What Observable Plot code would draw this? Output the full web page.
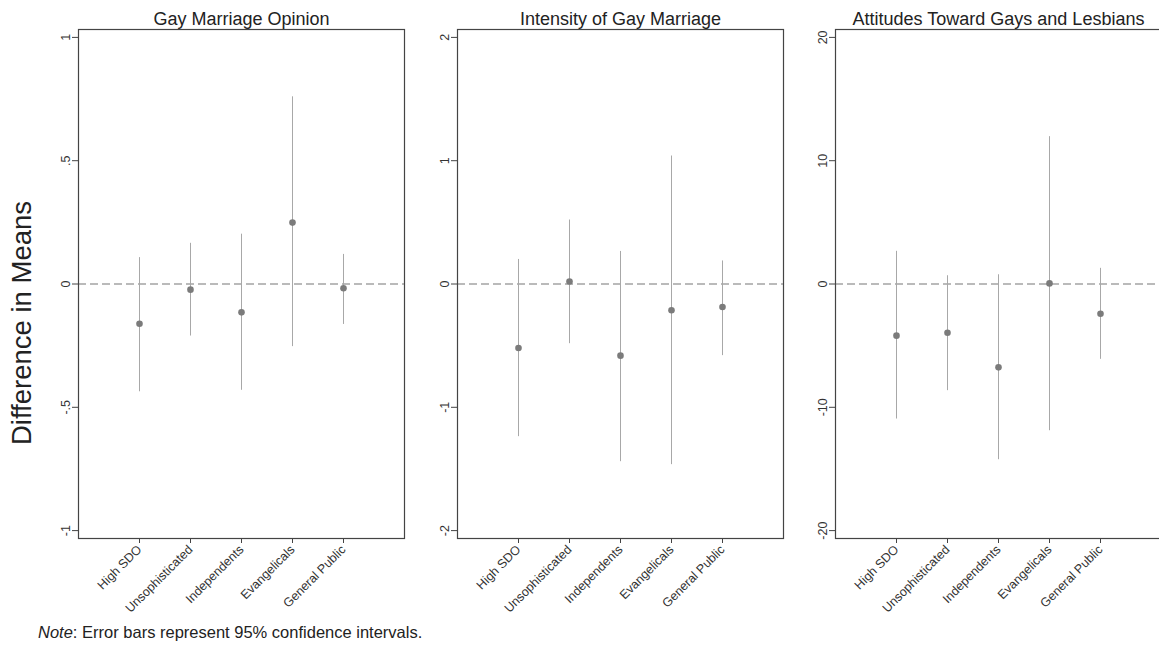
<!DOCTYPE html>
<html>
<head>
<meta charset="utf-8">
<script src="https://cdn.jsdelivr.net/npm/d3@7"></script>
<script src="https://cdn.jsdelivr.net/npm/@observablehq/plot@0.6"></script>
<style>
  html, body { margin: 0; padding: 0; background: #fff; }
  body { width: 1159px; height: 658px; overflow: hidden; position: relative; font-family: "Liberation Sans", Arial, sans-serif; }
  .panel { position: absolute; top: 0; width: 408px; }
  .panel svg { max-width: none !important; }
  #note { position: absolute; left: 38px; top: 623px; font-size: 16.5px; color: #222; font-family: "Liberation Sans", Arial, sans-serif; white-space: nowrap; }
</style>
</head>
<body>
<div id="p1" class="panel"></div>
<div id="p2" class="panel"></div>
<div id="p3" class="panel"></div>
<div id="note"><i>Note</i>: Error bars represent 95% confidence intervals.</div>
<script>
const categories = ["High SDO", "Unsophisticated", "Independents", "Evangelicals", "General Public"];
const panelTitles = ["Gay Marriage Opinion", "Intensity of Gay Marriage", "Attitudes Toward Gays and Lesbians"];
const yAxisTitle = "Difference in Means";

// Panel 1: Gay Marriage Opinion
const opinionEst = [-0.161, -0.023, -0.115, 0.249, -0.017];
const opinionLo  = [-0.437, -0.211, -0.431, -0.254, -0.164];
const opinionHi  = [0.107, 0.165, 0.202, 0.759, 0.120];
const opinionTicks = [-1, -0.5, 0, 0.5, 1];
const opinionTickLabels = ["-1", "-.5", "0", ".5", "1"];

// Panel 2: Intensity of Gay Marriage
const intensityEst = [-0.519, 0.02, -0.581, -0.213, -0.186];
const intensityLo  = [-1.238, -0.484, -1.441, -1.465, -0.581];
const intensityHi  = [0.199, 0.519, 0.264, 1.038, 0.187];
const intensityTicks = [-2, -1, 0, 1, 2];
const intensityTickLabels = ["-2", "-1", "0", "1", "2"];

// Panel 3: Attitudes Toward Gays and Lesbians
const attitudeEst = [-4.19, -3.95, -6.76, 0.05, -2.41];
const attitudeLo  = [-10.95, -8.65, -14.25, -11.9, -6.11];
const attitudeHi  = [2.65, 0.67, 0.75, 11.95, 1.27];
const attitudeTicks = [-20, -10, 0, 10, 20];
const attitudeTickLabels = ["-20", "-10", "0", "10", "20"];

const panels = [
  {id: "p1", frameLeft: 78,    title: panelTitles[0], est: opinionEst, lo: opinionLo, hi: opinionHi, ticks: opinionTicks, labels: opinionTickLabels, ymax: 1.032, ylabel: true},
  {id: "p2", frameLeft: 456.5, title: panelTitles[1], est: intensityEst, lo: intensityLo, hi: intensityHi, ticks: intensityTicks, labels: intensityTickLabels, ymax: 2.064, ylabel: false},
  {id: "p3", frameLeft: 835,   title: panelTitles[2], est: attitudeEst, lo: attitudeLo, hi: attitudeHi, ticks: attitudeTicks, labels: attitudeTickLabels, ymax: 20.64, ylabel: false}
];

const ML = 78, FW = 326, MR = 4, MT = 29, MB = 72, H = 610;

for (const p of panels) {
  const data = categories.map((c, j) => ({cat: c, est: p.est[j], lo: p.lo[j], hi: p.hi[j]}));
  const fmt = d => p.labels[p.ticks.indexOf(d)];
  const marks = [
    Plot.ruleY([0], {stroke: "#777", strokeWidth: 1.1, strokeDasharray: "8,4"}),
    Plot.ruleX(data, {x: "cat", y1: "lo", y2: "hi", stroke: "#a8a8a8", strokeWidth: 1}),
    Plot.dot(data, {x: "cat", y: "est", r: 3.3, fill: "#7b7b7b"}),
    Plot.axisY({ticks: p.ticks, tickFormat: fmt, tickRotate: -90, textAnchor: "middle", lineAnchor: "bottom", tickSize: 6, tickPadding: 3, fontSize: 12.5, label: null, stroke: "#444", fill: "#333"}),
    Plot.axisX({tickRotate: -45, tickSize: 5, tickPadding: 4, fontSize: 12.5, label: null, stroke: "#444", fill: "#333"}),
    Plot.frame({stroke: "#444", strokeWidth: 1.2}),
    Plot.text([p.title], {frameAnchor: "top", dy: -5, lineAnchor: "bottom", fontSize: 18, fill: "#222"})
  ];
  if (p.ylabel) {
    marks.push(Plot.text([yAxisTitle], {frameAnchor: "left", textAnchor: "middle", dx: -56, dy: 39, rotate: -90, fontSize: 27.5, lineAnchor: "middle", fill: "#222"}));
  }
  const chart = Plot.plot({
    width: ML + FW + MR,
    height: H,
    marginLeft: ML, marginRight: MR, marginTop: MT, marginBottom: MB,
    style: {background: "none", overflow: "visible", fontFamily: "'Liberation Sans', Arial, sans-serif", maxWidth: "none"},
    x: {type: "point", domain: categories, padding: 1.16},
    y: {domain: [-p.ymax, p.ymax]},
    marks
  });
  const holder = document.getElementById(p.id);
  holder.style.left = (p.frameLeft - ML) + "px";
  holder.appendChild(chart);
}
</script>
</body>
</html>
